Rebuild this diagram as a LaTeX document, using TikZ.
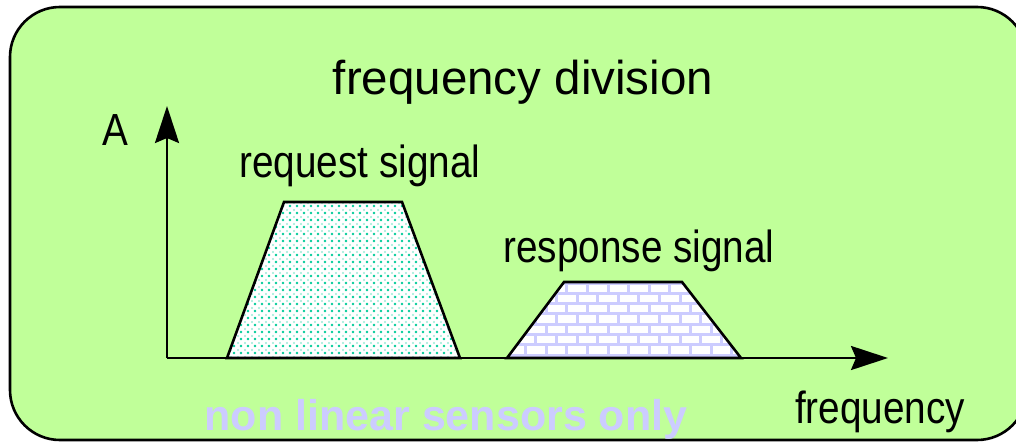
\documentclass[tikz,border=0pt]{standalone}
\usepackage{fontspec}
\setmainfont{Liberation Sans}
\newfontfamily\narrowfont[FakeStretch=0.86]{Liberation Sans}
\usetikzlibrary{arrows.meta,patterns.meta}

\definecolor{panelgreen}{RGB}{192,255,153}
\definecolor{dotteal}{RGB}{0,204,153}
\definecolor{bricklilac}{RGB}{204,204,255}

\begin{document}
\begin{tikzpicture}[
  x=1pt, y=-1pt,
  panel/.style={draw, line width=2.6pt, fill=panelgreen, rounded corners=50pt},
  label/.style={anchor=base, inner sep=0pt, font=\narrowfont\fontsize{45}{54}\selectfont},
  heading/.style={anchor=base, inner sep=0pt, font=\fontsize{47.5}{56}\selectfont},
  note/.style={anchor=base, inner sep=0pt, text=bricklilac, font=\bfseries\fontsize{43}{52}\selectfont},
  axis/.style={line width=2.6pt, -{Stealth[length=37pt, width=24pt, inset=5pt]}},
  band/.style={draw, line width=2.6pt, line join=miter},
  mortar/.style={bricklilac, line width=3pt}
]
\useasboundingbox (0,0) rectangle (1016,444);

% Panel
\draw[panel] (10,7) rectangle (1027,440);

% Request band
\fill[white] (227,358) -- (284,202) -- (402,202) -- (460,358) -- cycle;
\fill[pattern={Dots[distance=6.5pt, radius=1.4pt]}, pattern color=dotteal]
  (227,358) -- (284,202) -- (402,202) -- (460,358) -- cycle;
\fill[pattern={Dots[distance=6.5pt, radius=1.2pt, xshift=3.25pt, yshift=3.25pt]}, pattern color=dotteal!40]
  (227,358) -- (284,202) -- (402,202) -- (460,358) -- cycle;
\draw[band] (227,358) -- (284,202) -- (402,202) -- (460,358) -- cycle;

% Response band
\begin{scope}
  \clip (507,358) -- (564,282) -- (682,282) -- (741,358) -- cycle;
  \fill[white] (500,278) rectangle (745,362);
  \foreach \row in {0,...,7} {
    \pgfmathsetmacro\rowy{283+\row*10.3}
    \pgfmathsetmacro\brickoff{mod(\row,2)*10.3}
    \draw[mortar] (500,\rowy) -- (745,\rowy);
    \foreach \col in {0,...,12}
      \draw[mortar] ({505+\brickoff+\col*20.6},\rowy) -- ++(0,10.3);
  }
\end{scope}
\draw[band] (507,358) -- (564,282) -- (682,282) -- (741,358) -- cycle;

% Axes
\coordinate (origin) at (167,358);
\coordinate (ytip) at (167,106);
\coordinate (xtip) at (888,358);
\draw[axis] (origin) -- (ytip);
\draw[axis] (origin) -- (xtip);

% Labels
\node[heading] (title) at (523,94) {frequency division};
\node[label] (amp) at (115,145) {A};
\node[label] (reqlabel) at (360,177) {request signal};
\node[label] (resplabel) at (639,262) {response signal};
\node[label] (freq) at (880,423) {frequency};
\node[note] (linear) at (446,430) {non linear sensors only};

\end{tikzpicture}
\end{document}
